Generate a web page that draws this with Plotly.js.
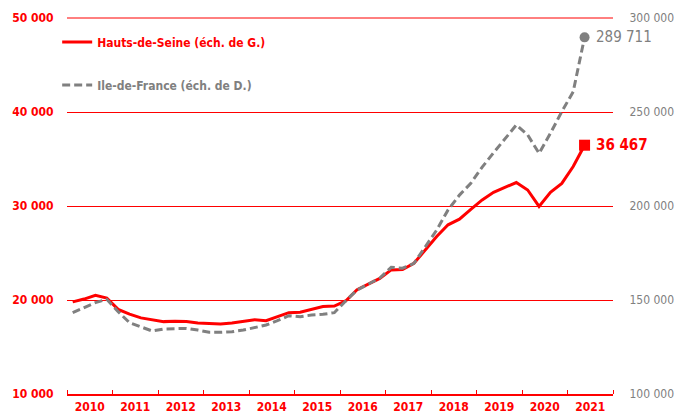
<!DOCTYPE html>
<html>
<head>
<meta charset="utf-8">
<script src="https://cdn.plot.ly/plotly-3.0.1.min.js"></script>
<style>html,body{margin:0;padding:0;background:#fff;}#chart{width:688px;height:415px;}</style>
</head>
<body>
<div id="chart"></div>
<script>
// Quarterly periods 2010T1 .. 2021T2
var periods = ["2010T1","2010T2","2010T3","2010T4","2011T1","2011T2","2011T3","2011T4",
  "2012T1","2012T2","2012T3","2012T4","2013T1","2013T2","2013T3","2013T4",
  "2014T1","2014T2","2014T3","2014T4","2015T1","2015T2","2015T3","2015T4",
  "2016T1","2016T2","2016T3","2016T4","2017T1","2017T2","2017T3","2017T4",
  "2018T1","2018T2","2018T3","2018T4","2019T1","2019T2","2019T3","2019T4",
  "2020T1","2020T2","2020T3","2020T4","2021T1","2021T2"];
var hautsDeSeine = [19800,20100,20500,20200, 19000,18500,18100,17900,
  17700,17750,17700,17550, 17500,17450,17550,17700,
  17900,17800,18200,18650, 18700,19000,19300,19350,
  19900,21100,21700,22300, 23200,23250,23900,25300,
  26750,28000,28600,29650, 30650,31450,31950,32500,
  31700,29950,31450,32400, 34200,36467];
var ileDeFrance = [143250,146100,148600,150350, 143800,137900,135800,133500,
  134600,134900,134900,134000, 132800,132800,133100,134000,
  135500,136700,139000,141650, 141100,142000,142400,143250,
  149500,155300,158500,161700, 167400,166900,169500,178400,
  187200,197900,205800,212100, 220700,228300,236000,243100,
  237800,228000,238700,250200, 260800,289711];
var years = ["2010","2011","2012","2013","2014","2015","2016","2017","2018","2019","2020","2021"];
var nameHDS = "Hauts-de-Seine (éch. de G.)";
var nameIDF = "Ile-de-France (éch. de D.)";

var RED = "#ff0000", GREY = "#808080";
var FONT = "DejaVu Sans Condensed, DejaVu Sans, sans-serif";

var xs = periods.map(function(p){ var y = +p.slice(0,4), q = +p.slice(5); return y + (q - 0.5)/4; });
var last = xs.length - 1;
function fmt(v){ return String(v).replace(/\B(?=(\d{3})+(?!\d))/g, " "); }

var traces = [
  {x: xs, y: hautsDeSeine, type: "scatter", mode: "lines", name: "<b>" + nameHDS + "</b>",
   line: {color: RED, width: 3}, legendgroup: "a", yaxis: "y"},
  {x: xs, y: ileDeFrance, type: "scatter", mode: "lines", name: "<span style='color:" + GREY + "'><b>" + nameIDF + "</b></span>",
   line: {color: GREY, width: 3, dash: "8px,4px"}, legendgroup: "b", yaxis: "y2"},
  {x: [xs[last]], y: [hautsDeSeine[last]], type: "scatter", mode: "markers", showlegend: false,
   marker: {symbol: "square", size: 11, color: RED}, yaxis: "y"},
  {x: [xs[last]], y: [ileDeFrance[last]], type: "scatter", mode: "markers", showlegend: false,
   marker: {symbol: "circle", size: 10, color: GREY}, yaxis: "y2"}
];

var layout = {
  width: 688, height: 415,
  margin: {l: 67, r: 75, t: 18, b: 21},
  paper_bgcolor: "#fff", plot_bgcolor: "#fff",
  separators: ", ",
  font: {family: FONT, size: 12, color: RED},
  showlegend: true,
  legend: {x: -0.018, y: 0.975, xanchor: "left", yanchor: "top", bgcolor: "rgba(0,0,0,0)",
    font: {family: FONT, size: 12, color: RED}, traceorder: "grouped", tracegroupgap: 24, itemwidth: 30},
  xaxis: {
    range: [2010, 2022], showgrid: false, zeroline: false,
    showline: true, linecolor: RED, linewidth: 1.5,
    tickmode: "array", tickvals: years.map(function(y){ return +y + 0.5; }), ticktext: years,
    ticks: "", ticklabelstandoff: 1, tickfont: {family: FONT, size: 12, color: RED, weight: "bold"},
    minor: {tickmode: "array", tickvals: years.map(function(y){ return +y; }).concat([2022]),
      ticks: "inside", ticklen: 4, tickcolor: RED, tickwidth: 1, showgrid: false}
  },
  yaxis: {
    range: [10000, 50000], dtick: 10000, tick0: 10000, tickformat: ",d",
    showgrid: true, gridcolor: RED, gridwidth: 1, zeroline: false, showline: false,
    ticks: "outside", ticklen: 10, tickcolor: "rgba(0,0,0,0)",
    tickfont: {family: FONT, size: 12, color: RED, weight: "bold"}
  },
  yaxis2: {
    range: [100000, 300000], dtick: 50000, tick0: 100000, tickformat: ",d",
    overlaying: "y", side: "right", showgrid: false, zeroline: false, showline: false,
    ticks: "outside", ticklen: 13, tickcolor: "rgba(0,0,0,0)",
    tickfont: {family: FONT, size: 12, color: GREY}
  },
  shapes: [
    {type: "line", xref: "paper", yref: "paper", x0: 0, x1: 1, y0: 1, y1: 1,
     line: {color: RED, width: 1}, layer: "below"}
  ],
  annotations: [
    {x: xs[last], y: ileDeFrance[last], xref: "x", yref: "y2", text: fmt(ileDeFrance[last]),
     showarrow: false, xanchor: "left", yanchor: "middle", xshift: 9,
     font: {family: FONT, size: 15, color: GREY}},
    {x: xs[last], y: hautsDeSeine[last], xref: "x", yref: "y", text: "<b>" + fmt(hautsDeSeine[last]) + "</b>",
     showarrow: false, xanchor: "left", yanchor: "middle", xshift: 9,
     font: {family: FONT, size: 15, color: RED}}
  ]
};

Plotly.newPlot("chart", traces, layout, {displayModeBar: false, staticPlot: true});
</script>
</body>
</html>
